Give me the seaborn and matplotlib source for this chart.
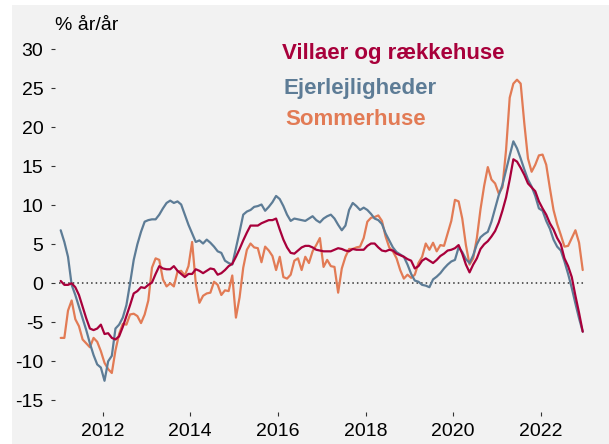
import numpy as np
import pandas as pd
import matplotlib
matplotlib.use("Agg")
import matplotlib.pyplot as plt
import seaborn as sns
from matplotlib.patches import Rectangle

# ---------------- data (monthly, Jan 2011 - Dec 2022, % y/y) ----------------
start_year = 2011

villa = [0.3, -0.2, -0.2, 0.0, -0.5, -1.5, -3.0, -4.5, -5.8, -6.0, -5.8, -5.3,
         -6.5, -6.4, -7.0, -7.2, -6.8, -5.6, -4.2, -2.8, -1.3, -1.0, -0.5, -0.6,
         -0.2, 0.1, 1.2, 2.2, 1.9, 1.8, 1.8, 2.2, 1.6, 1.2, 0.8, 1.2,
         1.2, 1.8, 1.6, 1.3, 1.6, 1.9, 1.8, 1.1, 1.3, 1.7, 2.2, 2.5,
         3.4, 4.4, 5.5, 6.5, 7.4, 7.4, 7.4, 7.7, 7.9, 8.1, 8.1, 8.3,
         6.9, 5.6, 4.6, 3.9, 3.8, 4.2, 4.6, 4.8, 4.8, 4.6, 4.3, 4.2,
         4.1, 4.1, 4.1, 4.3, 4.5, 4.4, 4.2, 4.1, 4.4, 4.3, 4.3, 4.3,
         4.8, 5.1, 5.1, 4.6, 4.2, 4.1, 4.3, 4.2, 3.8, 3.6, 3.4, 3.1,
         2.9, 1.9, 2.2, 2.9, 3.2, 2.9, 2.6, 3.0, 3.5, 3.8, 4.2, 4.3,
         4.5, 4.9, 3.8, 2.4, 1.4, 2.4, 3.2, 4.4, 5.0, 5.4, 6.0, 6.7,
         7.8, 9.3, 11.0, 13.3, 15.9, 15.6, 14.8, 13.9, 12.8, 12.3, 11.8, 10.5,
         9.6, 8.8, 7.7, 6.9, 5.8, 5.0, 3.2, 2.2, 0.8, -1.6, -3.8, -6.2]

ejer = [6.8, 5.3, 3.4, -0.2, -1.5, -3.0, -4.5, -6.0, -7.7, -9.2, -10.4, -10.8,
        -12.5, -10.0, -9.3, -5.8, -5.3, -4.4, -2.8, 0.0, 3.0, 5.0, 6.6, 7.9,
        8.1, 8.2, 8.2, 8.8, 9.6, 10.3, 10.6, 10.3, 10.5, 10.1, 8.8, 7.5,
        6.4, 5.3, 5.5, 5.1, 5.6, 5.2, 4.7, 4.1, 3.9, 2.9, 2.6, 2.4,
        4.5, 6.6, 8.8, 9.2, 9.4, 9.8, 9.9, 10.1, 9.3, 9.8, 10.4, 11.2,
        10.8, 9.9, 8.8, 8.0, 8.3, 8.2, 8.1, 8.0, 8.3, 8.6, 8.1, 7.8,
        8.3, 8.6, 8.8, 8.3, 7.5, 6.8, 7.4, 9.4, 10.3, 9.9, 9.4, 9.7,
        9.4, 8.9, 8.3, 8.1, 7.6, 6.4, 5.5, 4.6, 4.0, 3.7, 3.4, 2.4,
        1.2, 0.35, 0.2, -0.2, -0.3, -0.5, 0.5, 0.85, 1.3, 1.9, 2.4, 2.8,
        3.0, 4.6, 4.0, 3.1, 2.6, 3.6, 5.0, 5.9, 6.3, 6.6, 7.9, 9.6,
        11.3, 12.6, 14.5, 16.4, 18.2, 17.3, 16.0, 14.6, 13.3, 12.4, 11.2, 9.6,
        9.3, 8.0, 7.0, 5.6, 4.7, 4.2, 2.8, 1.2, -0.6, -2.6, -4.5, -6.2]

sommer = [-7.0, -7.0, -3.5, -2.2, -4.6, -5.5, -7.2, -7.7, -8.2, -7.0, -7.5, -8.7,
          -10.2, -11.0, -11.5, -8.6, -6.5, -5.2, -5.3, -4.0, -3.9, -4.2, -5.1, -4.0,
          -2.2, 2.0, 3.2, 3.0, 0.5, -0.4, 0.0, -0.4, 1.5, 1.6, 1.0, 2.2,
          5.3, 0.0, -2.5, -1.6, -1.3, -1.2, 0.2, -0.2, -1.5, -0.9, -1.0, 1.0,
          -4.4, -1.8, 2.0, 4.3, 5.1, 4.6, 4.5, 2.7, 4.7, 4.2, 3.5, 1.7,
          3.4, 0.8, 0.6, 1.1, 2.9, 3.2, 1.7, 3.4, 2.6, 4.1, 4.9, 5.8,
          2.1, 3.0, 2.2, 2.1, -1.2, 1.9, 3.4, 4.4, 4.4, 4.6, 4.7, 5.8,
          7.9, 8.4, 8.5, 8.7, 8.0, 6.0, 4.6, 4.1, 3.2, 1.7, 0.6, 1.1,
          0.7, 1.1, 2.6, 3.4, 5.1, 4.3, 5.2, 4.1, 4.9, 4.8, 6.4, 8.0,
          10.7, 10.5, 8.3, 4.9, 2.4, 3.2, 5.8, 9.5, 12.5, 14.9, 13.3, 12.8,
          11.5, 12.3, 17.1, 23.8, 25.6, 26.1, 25.6, 20.5, 16.0, 14.3, 15.2, 16.4,
          16.5, 15.2, 12.2, 9.4, 7.6, 6.2, 4.7, 4.8, 5.8, 6.8, 5.2, 1.7]

series_names = ["Villaer og rækkehuse", "Ejerlejligheder", "Sommerhuse"]
series_colors = ["#a8003b", "#5d7c96", "#e27b55"]
x_ticks = [2012, 2014, 2016, 2018, 2020, 2022]
y_ticks = [-15, -10, -5, 0, 5, 10, 15, 20, 25, 30]
y_unit_label = "% år/år"

# ---------------- build long-form table ----------------
n = len(villa)
t = start_year + (np.arange(n) + 0.5) / 12.0
df = pd.DataFrame({
    "t": np.tile(t, 3),
    "v": villa + ejer + sommer,
    "serie": np.repeat(series_names, n),
})

sns.set_style("white")
plt.rcParams["font.family"] = ["Liberation Sans", "DejaVu Sans"]
plt.rcParams["axes.unicode_minus"] = False
plt.rcParams["text.color"] = "black"

W, H = 609, 444
fig = plt.figure(figsize=(W / 100, H / 100), dpi=100)
fig.patch.set_facecolor("white")
bg = Rectangle((12 / W, 0), 1, 1 - 5 / H, transform=fig.transFigure,
               facecolor="#f2f2f2", edgecolor="none", zorder=-10)
fig.patches.append(bg)

ax = fig.add_axes([54.5 / W, 32 / H, 541 / W, (412 - 33.7) / H])
ax.set_facecolor("none")
ax.set_zorder(1)

palette = dict(zip(series_names, series_colors))
sns.lineplot(data=df, x="t", y="v", hue="serie",
             hue_order=[series_names[2], series_names[1], series_names[0]],
             palette=palette, linewidth=1.6, legend=False, ax=ax, zorder=3)

ax.hlines(0, start_year, start_year + n / 12.0, colors="#333333",
          linestyles=(0, (1, 2)), linewidth=1.1, zorder=2)

ax.set_xlim(2010.9, 2023.25)
ax.set_ylim(-16.5, 32)
ax.set_xticks(x_ticks)
ax.set_xticklabels([str(v) for v in x_ticks])
ax.set_yticks(y_ticks)
ax.set_yticklabels([str(v) for v in y_ticks])
ax.set_xlabel("")
ax.set_ylabel("")
for s in ax.spines.values():
    s.set_visible(False)
ax.tick_params(axis="both", bottom=True, left=True, direction="out",
               length=3, width=0.8, color="#333333",
               labelsize=14, labelcolor="black", pad=5)

fig.text(55 / W, 1 - 30 / H, y_unit_label, fontsize=14, color="black",
         ha="left", va="baseline", zorder=5)

label_pos = [(281.5, 59.3), (283.5, 94.3), (285, 125)]
for name, col, (px, py) in zip(series_names, series_colors, label_pos):
    fig.text(px / W, 1 - py / H, name, color=col, fontsize=16, fontweight="bold",
             ha="left", va="baseline", zorder=5)

fig.savefig("out.png", dpi=100)
